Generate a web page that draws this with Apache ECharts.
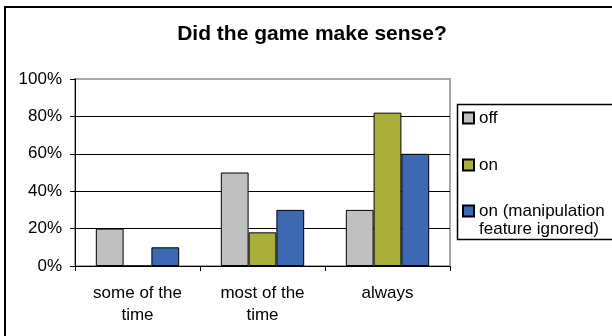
<!DOCTYPE html>
<html>
<head>
<meta charset="utf-8">
<script src="https://cdn.jsdelivr.net/npm/echarts@6/dist/echarts.min.js"></script>
<style>
  html, body { margin: 0; padding: 0; background: #fff; }
  #chart { width: 612px; height: 336px; }
</style>
</head>
<body>
<div id="chart"></div>
<script>
// Survey answers: share of players per answer, by condition
const categories = ['some of the\ntime', 'most of the\ntime', 'always'];
const offValues = [20, 50, 30];
const onValues = [0, 18, 82];
const onIgnoredValues = [10, 30, 60];
const seriesNames = ['off', 'on', 'on (manipulation\nfeature ignored)'];
const yTicks = { min: 0, max: 100, interval: 20 };

const FONT = 'Liberation Sans, Arial, sans-serif';
const colors = ['#C0C0C0', '#A9AF38', '#3D69B2'];

const chart = echarts.init(document.getElementById('chart'), null, { renderer: 'canvas' });

// One legend per entry so each row can sit at its own height
function legendFor(i, top, formatter) {
  const lg = {
    data: [seriesNames[i]],
    left: 462,
    top: top,
    orient: 'vertical',
    icon: 'rect',
    itemWidth: 11,
    itemHeight: 11,
    itemGap: 0,
    padding: 0,
    selectedMode: false,
    textStyle: { fontFamily: FONT, fontSize: 17, color: '#000', lineHeight: 18 }
  };
  if (formatter) lg.formatter = formatter;
  return lg;
}

chart.setOption({
  animation: false,
  color: colors,
  title: {
    text: 'Did the game make sense?',
    left: 307,
    textAlign: 'center',
    top: 19,
    textStyle: { fontFamily: FONT, fontSize: 21, fontWeight: 'bold', color: '#000' }
  },
  graphic: [
    { type: 'rect', shape: { x: 5, y: 7, width: 700, height: 400 },
      style: { fill: 'none', stroke: '#000', lineWidth: 2 }, z: 0 },
    { type: 'rect', shape: { x: 457.5, y: 104.5, width: 300, height: 135 },
      style: { fill: 'none', stroke: '#000', lineWidth: 1.5 }, z: 0 }
  ],
  legend: [
    legendFor(0, 109),
    legendFor(1, 156),
    // leading blank line keeps the marker level with the first text line
    legendFor(2, 184, name => '\n' + name)
  ],
  grid: {
    left: 75, top: 79, right: 162, bottom: 70,
    show: true, borderColor: '#A8A8A8', borderWidth: 2, backgroundColor: 'transparent'
  },
  xAxis: {
    type: 'category',
    data: categories,
    axisLine: { lineStyle: { color: '#000', width: 1 } },
    axisTick: { show: true, length: 5, lineStyle: { color: '#000' } },
    axisLabel: { fontFamily: FONT, fontSize: 17, color: '#000', lineHeight: 22, margin: 16, interval: 0 }
  },
  yAxis: {
    type: 'value',
    min: yTicks.min, max: yTicks.max, interval: yTicks.interval,
    axisLine: { show: true, lineStyle: { color: '#000', width: 1 } },
    axisTick: { show: true, length: 5, lineStyle: { color: '#000' } },
    axisLabel: { fontFamily: FONT, fontSize: 17, color: '#000', margin: 13, formatter: '{value}%' },
    splitLine: { show: true, lineStyle: { color: ['#000', '#000', '#000', '#000', '#000', '#A8A8A8'], width: 1 } }
  },
  series: [offValues, onValues, onIgnoredValues].map((vals, i) => ({
    name: seriesNames[i],
    type: 'bar',
    data: vals,
    barGap: '0%',
    barCategoryGap: '33.3%',
    itemStyle: { color: colors[i], borderColor: '#000', borderWidth: 1 }
  }))
});
</script>
</body>
</html>
